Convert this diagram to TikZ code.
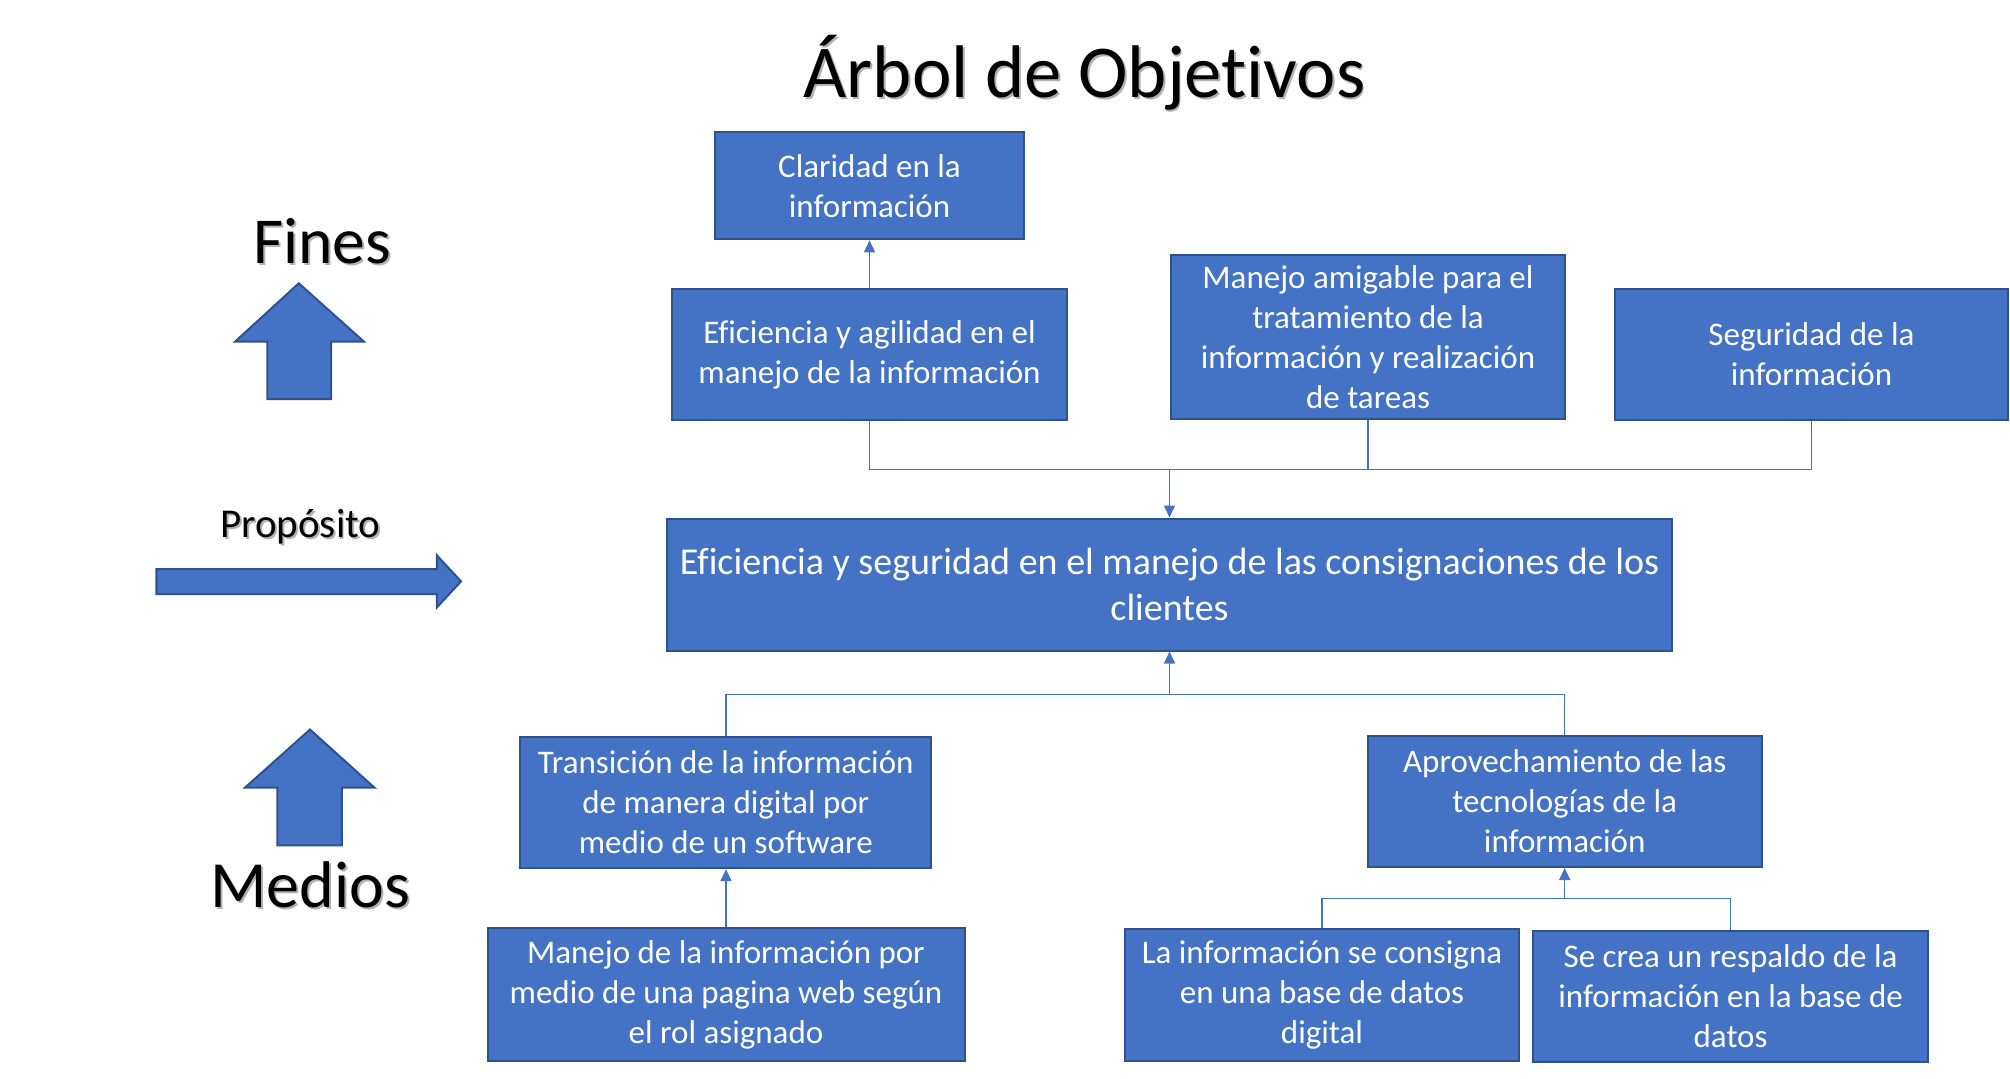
\documentclass[tikz,border=0pt]{standalone}
\usepackage{fontspec}
\setmainfont{Carlito}[Ligatures=NoCommon]
\usetikzlibrary{arrows.meta}
\definecolor{boxblue}{HTML}{4472C4}
\definecolor{boxedge}{HTML}{2F528F}
\newcommand{\shadowtxt}[1]{\rlap{\hspace{0.9pt}\raisebox{-0.9pt}{\color{black!30}#1}}#1}
\begin{document}
\begin{tikzpicture}[x=0.5pt,y=-0.5pt,
  objbox/.style={draw=boxedge, line width=1pt, fill=boxblue, text=white, align=center,
    inner sep=0pt, font=\fontsize{16.5}{20}\selectfont},
  conn/.style={draw=boxblue, line width=0.75pt},
  arr/.style={conn, -{Triangle[length=6pt,width=5.5pt]}},
  blockarrow/.style={fill=boxblue, draw=boxedge, line width=1pt},
  bigtxt/.style={inner sep=0pt, anchor=base, text=black}
  ]
\path[use as bounding box, fill=white] (0,0) rectangle (2010,1078);

% titles and labels
\node[bigtxt, font=\fontsize{37.3}{44}\selectfont] (title) at (1084.5,97.5) {\shadowtxt{Árbol de Objetivos}};
\node[bigtxt, font=\fontsize{32.8}{38}\selectfont] (fines) at (322.3,263.3) {\shadowtxt{Fines}};
\node[bigtxt, font=\fontsize{20.5}{24}\selectfont] (prop) at (300.4,537.3) {\shadowtxt{Propósito}};
\node[bigtxt, font=\fontsize{33}{38}\selectfont] (medios) at (310.3,907.7) {\shadowtxt{Medios}};

% block arrows
\draw[blockarrow] (298.8,283.3) -- (364,341.7) -- (331.1,341.7) -- (331.1,399) -- (267.3,399) -- (267.3,341.7) -- (235,341.7) -- cycle;
\draw[blockarrow] (310,729.5) -- (374.4,787.6) -- (341.8,787.6) -- (341.8,845.3) -- (277.4,845.3) -- (277.4,787.6) -- (245,787.6) -- cycle;
\draw[blockarrow] (156.3,569) -- (436.9,569) -- (436.9,555.3) -- (461,581.4) -- (436.9,607.4) -- (436.9,594.2) -- (156.3,594.2) -- cycle;

% boxes
\node[objbox, minimum width=154.7pt, minimum height=53.5pt] (clar) at (869.5,185.8) {Claridad en la\\información};
\node[objbox, minimum width=197.5pt, minimum height=65.8pt] (eff) at (869.5,354.5) {Eficiencia y agilidad en el\\manejo de la información};
\node[objbox, minimum width=197.4pt, minimum height=82pt] (amig) at (1368,337.3) {Manejo amigable para el\\tratamiento de la\\información y realización\\de tareas};
\node[objbox, minimum width=196.5pt, minimum height=65.8pt] (seg) at (1811.5,354.5) {Seguridad de la\\información};
\node[objbox, minimum width=502.5pt, minimum height=66pt, font=\fontsize{19}{23}\selectfont] (cen) at (1169.5,584.5) {Eficiencia y seguridad en el manejo de las consignaciones de los\\clientes};
\node[objbox, minimum width=205.4pt, minimum height=65.7pt] (trans) at (725.8,802.4) {Transición de la información\\de manera digital por\\medio de un software};
\node[objbox, minimum width=197.2pt, minimum height=65.6pt] (aprov) at (1564.7,801.4) {Aprovechamiento de las\\tecnologías de la\\información};
\node[objbox, minimum width=238.5pt, minimum height=66.5pt] (manweb) at (726,994.6) {Manejo de la información por\\medio de una pagina web según\\el rol asignado};
\node[objbox, minimum width=196.9pt, minimum height=66pt] (lainf) at (1322,994.7) {La información se consigna\\en una base de datos\\digital};
\node[objbox, minimum width=197.2pt, minimum height=65.7pt] (secrea) at (1730.6,996.3) {Se crea un respaldo de la\\información en la base de\\datos};

% junctions
\coordinate (jt) at (1169.5,469.3);
\coordinate (jb) at (1169.5,694.3);
\coordinate (jc) at (1564.7,898.5);

% connectors
\draw[arr] (eff.north) -- (clar.south);
\draw[conn] (eff.south) |- (jt);
\draw[conn] (amig.south) |- (jt);
\draw[conn] (seg.south) |- (jt);
\draw[arr] (jt) -- (cen.north);

\draw[conn] (trans.north) |- (jb);
\draw[conn] (aprov.north) |- (jb);
\draw[arr] (jb) -- (cen.south);

\draw[arr] (manweb.north) -- (trans.south -| manweb.north);
\draw[conn] (lainf.north) |- (jc);
\draw[conn] (secrea.north) |- (jc);
\draw[arr] (jc) -- (aprov.south);
\end{tikzpicture}
\end{document}
